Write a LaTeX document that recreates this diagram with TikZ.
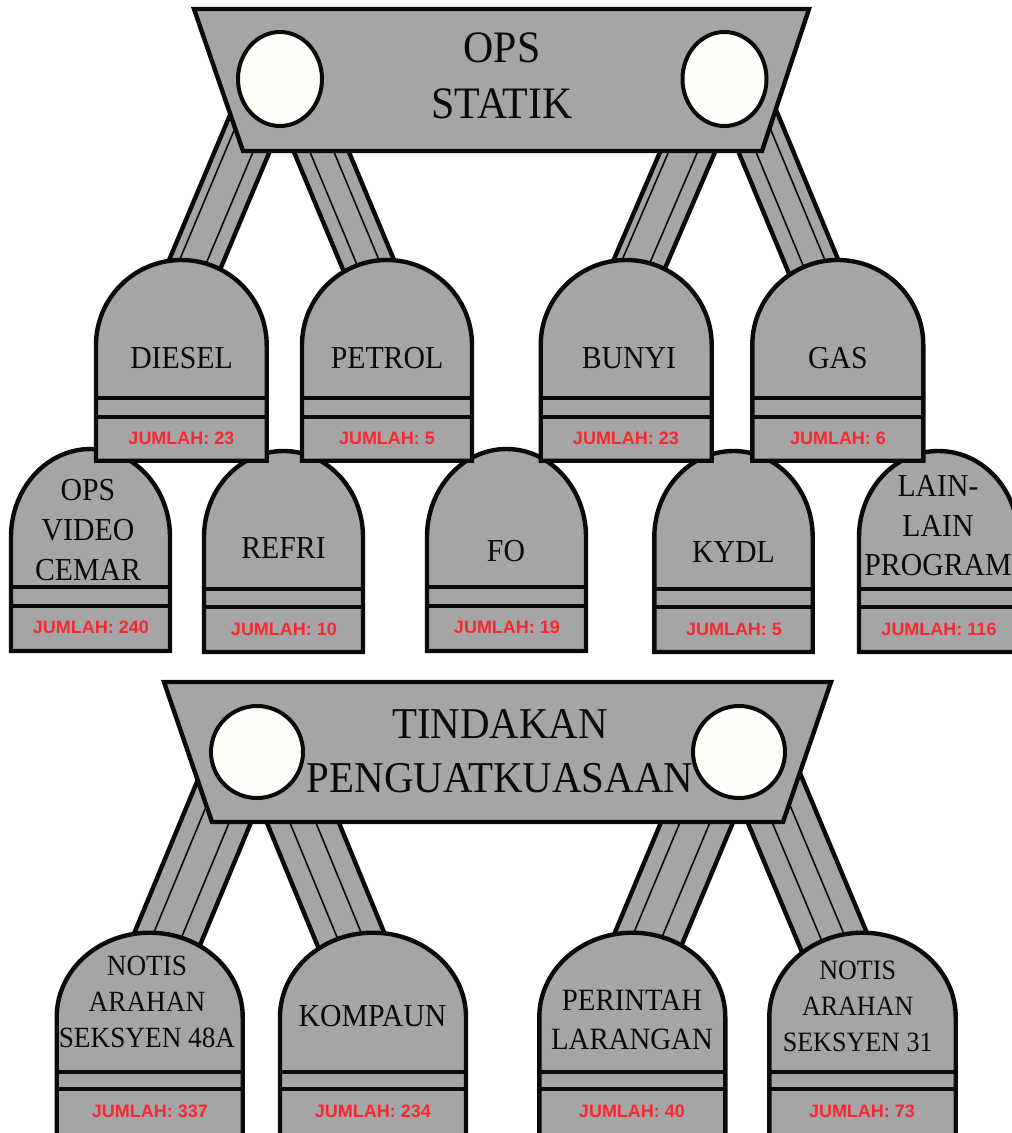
\documentclass[tikz,border=0pt]{standalone}
\usepackage{fontspec}
\usetikzlibrary{shapes.geometric}
\setmainfont[FakeStretch=0.93]{Liberation Serif}
\newfontfamily\countfont[Scale=1]{Liberation Sans}
\definecolor{slabgray}{HTML}{A5A5A5}
\definecolor{inkblack}{HTML}{0A0A0A}
\definecolor{ivorydisc}{HTML}{FFFEF8}
\definecolor{countred}{HTML}{F9272F}
\newcommand{\txtsize}[2]{\fontsize{#1}{#2}\selectfont}
% L R top spring line1 line2 bottom
\newcommand{\tombshape}[7]{%
  \draw[slab] (#1,#7) -- (#1,#4) arc[start angle=180,end angle=360,x radius={(#2-#1)/2},y radius={#4-#3}] -- (#2,#7) -- cycle;
  \draw[rule] (#1,#5) -- (#2,#5);
  \draw[rule] (#1,#6) -- (#2,#6);
}
% top coord, bottom coord, half width, thin offset 1, thin offset 2
\newcommand{\band}[5]{%
  \draw[slab] ([xshift=-#3pt]#1) -- ([xshift=-#3pt]#2) -- ([xshift=#3pt]#2) -- ([xshift=#3pt]#1) -- cycle;
  \draw[thinrule] ([xshift=#4pt]#1) -- ([xshift=#4pt]#2);
  \draw[thinrule] ([xshift=#5pt]#1) -- ([xshift=#5pt]#2);
}
\tikzset{
  slab/.style={draw=inkblack,fill=slabgray,line width=4.4pt,line join=miter},
  rule/.style={draw=inkblack,line width=3.8pt},
  thinrule/.style={draw=inkblack,line width=1.6pt},
  disc/.style={draw=inkblack,fill=ivorydisc,line width=4pt},
  namelabel/.style={text=inkblack,align=center,inner sep=0pt},
  countlabel/.style={text=countred,inner sep=0pt,font=\countfont\bfseries\txtsize{18}{20}},
}
\begin{document}
\begin{tikzpicture}[x=1pt,y=-1pt]
\useasboundingbox (0,0) rectangle (1012,1133);
\clip (0,0) rectangle (1012,1133);
\fill[white] (0,0) rectangle (1012,1133);

% connector ends
\coordinate (opsA) at (261.7,105);   \coordinate (dieselTop) at (184.0,290);
\coordinate (opsB) at (312.3,130);   \coordinate (petrolTop) at (379.0,290);
\coordinate (opsC) at (697.0,130);   \coordinate (bunyiTop) at (628.2,290);
\coordinate (opsD) at (746.5,105);   \coordinate (gasTop) at (823.3,290);
\coordinate (tinA) at (237.3,770);   \coordinate (notisaTop) at (156.4,965);
\coordinate (tinB) at (281.2,770);   \coordinate (kompaunTop) at (361.5,965);
\coordinate (tinC) at (718.9,770);   \coordinate (perintahTop) at (637.3,965);
\coordinate (tinD) at (762.2,770);   \coordinate (notisbTop) at (843.9,965);

% connectors
\band{opsA}{dieselTop}{27.5}{-17}{11}
\band{opsB}{petrolTop}{27.5}{-11.5}{12.5}
\band{opsC}{bunyiTop}{27.5}{-19}{10}
\band{opsD}{gasTop}{27.5}{-10}{14}
\band{tinA}{notisaTop}{35.4}{-16}{13.7}
\band{tinB}{kompaunTop}{36}{-13}{13}
\band{tinC}{perintahTop}{36}{-17}{13}
\band{tinD}{notisbTop}{36.5}{-12}{13}

% second row
\tombshape{11}{170}{449}{537}{587}{606}{651}
\node[namelabel,font=\txtsize{32}{39.6}] (video) at (88,530) {OPS\\VIDEO\\CEMAR};
\node[countlabel] (videocount) at (91,627.5) {JUMLAH: 240};
\tombshape{204}{363}{451}{537}{589}{607}{652}
\node[namelabel,font=\txtsize{32}{39}] (refri) at (283.5,548) {REFRI};
\node[countlabel] (refricount) at (284,629) {JUMLAH: 10};
\tombshape{427}{586}{449}{537}{587}{606}{651}
\node[namelabel,font=\txtsize{32}{39}] (fo) at (506,551) {FO};
\node[countlabel] (focount) at (507,627.5) {JUMLAH: 19};
\tombshape{654.3}{812.7}{451}{537}{589}{607}{652}
\node[namelabel,font=\txtsize{32}{39}] (kydl) at (733.5,552.5) {KYDL};
\node[countlabel] (kydlcount) at (734,629) {JUMLAH: 5};
\tombshape{859}{1018}{451}{537}{589}{607}{652}
\node[namelabel,font=\txtsize{32}{39.6}] (lain) at (938,525.7) {LAIN-\\LAIN\\PROGRAM};
\node[countlabel] (laincount) at (939,629) {JUMLAH: 116};

% first row
\tombshape{96}{266.7}{260}{345}{398}{416.7}{460.7}
\node[namelabel,font=\txtsize{32}{39}] (diesel) at (181.5,358) {DIESEL};
\node[countlabel] (dieselcount) at (181.5,438) {JUMLAH: 23};
\tombshape{302}{472}{260}{345}{398}{416.7}{460.7}
\node[namelabel,font=\txtsize{32}{39}] (petrol) at (387,358) {PETROL};
\node[countlabel] (petrolcount) at (387,438) {JUMLAH: 5};
\tombshape{540.7}{711.7}{260}{345}{398}{416.7}{460.7}
\node[namelabel,font=\txtsize{32}{39}] (bunyi) at (629,358) {BUNYI};
\node[countlabel] (bunyicount) at (626,438) {JUMLAH: 23};
\tombshape{752.3}{923.3}{260}{345}{398}{416.7}{460.7}
\node[namelabel,font=\txtsize{32}{39}] (gas) at (838,358) {GAS};
\node[countlabel] (gascount) at (838,438) {JUMLAH: 6};

% third row
\tombshape{56.7}{242.7}{932.7}{1017}{1071.7}{1089}{1160}
\node[namelabel,font=\txtsize{29.3}{36}] (notisa) at (147,1001.5) {NOTIS\\ARAHAN\\SEKSYEN 48A};
\node[countlabel] (notisacount) at (150,1111.5) {JUMLAH: 337};
\tombshape{280}{466}{932.7}{1017}{1071.7}{1089}{1160}
\node[namelabel,font=\txtsize{32}{39}] (kompaun) at (372.5,1016.5) {KOMPAUN};
\node[countlabel] (kompauncount) at (373,1111.5) {JUMLAH: 234};
\tombshape{539.3}{725.3}{932.7}{1017}{1071.7}{1089}{1160}
\node[namelabel,font=\txtsize{31}{39}] (perintah) at (632,1019.5) {PERINTAH\\LARANGAN};
\node[countlabel] (perintahcount) at (632,1111.5) {JUMLAH: 40};
\tombshape{769.3}{955.7}{932.7}{1017}{1071.7}{1089}{1160}
\node[namelabel,font=\txtsize{28}{35.7}] (notisb) at (857.7,1006.3) {NOTIS\\ARAHAN\\SEKSYEN 31};
\node[countlabel] (notisbcount) at (862,1111.5) {JUMLAH: 73};

% banners
\draw[slab] (194,9) -- (809,9) -- (762,151) -- (243,151) -- cycle;
\node[disc,ellipse,minimum width=84pt,minimum height=94pt,inner sep=0pt] (opsl) at (280,79) {};
\node[disc,ellipse,minimum width=84pt,minimum height=94pt,inner sep=0pt] (opsr) at (724.5,79) {};
\node[namelabel,font=\txtsize{45}{56}] (ops) at (502,76) {OPS\\STATIK};

\draw[slab] (164,682) -- (831,682) -- (783,822) -- (212,822) -- cycle;
\node[disc,circle,minimum size=92pt,inner sep=0pt] (tinl) at (257,752) {};
\node[disc,circle,minimum size=92pt,inner sep=0pt] (tinr) at (739,752) {};
\node[namelabel,font=\txtsize{44}{54}] (tindakan) at (500,751) {TINDAKAN\\PENGUATKUASAAN};
\end{tikzpicture}
\end{document}
